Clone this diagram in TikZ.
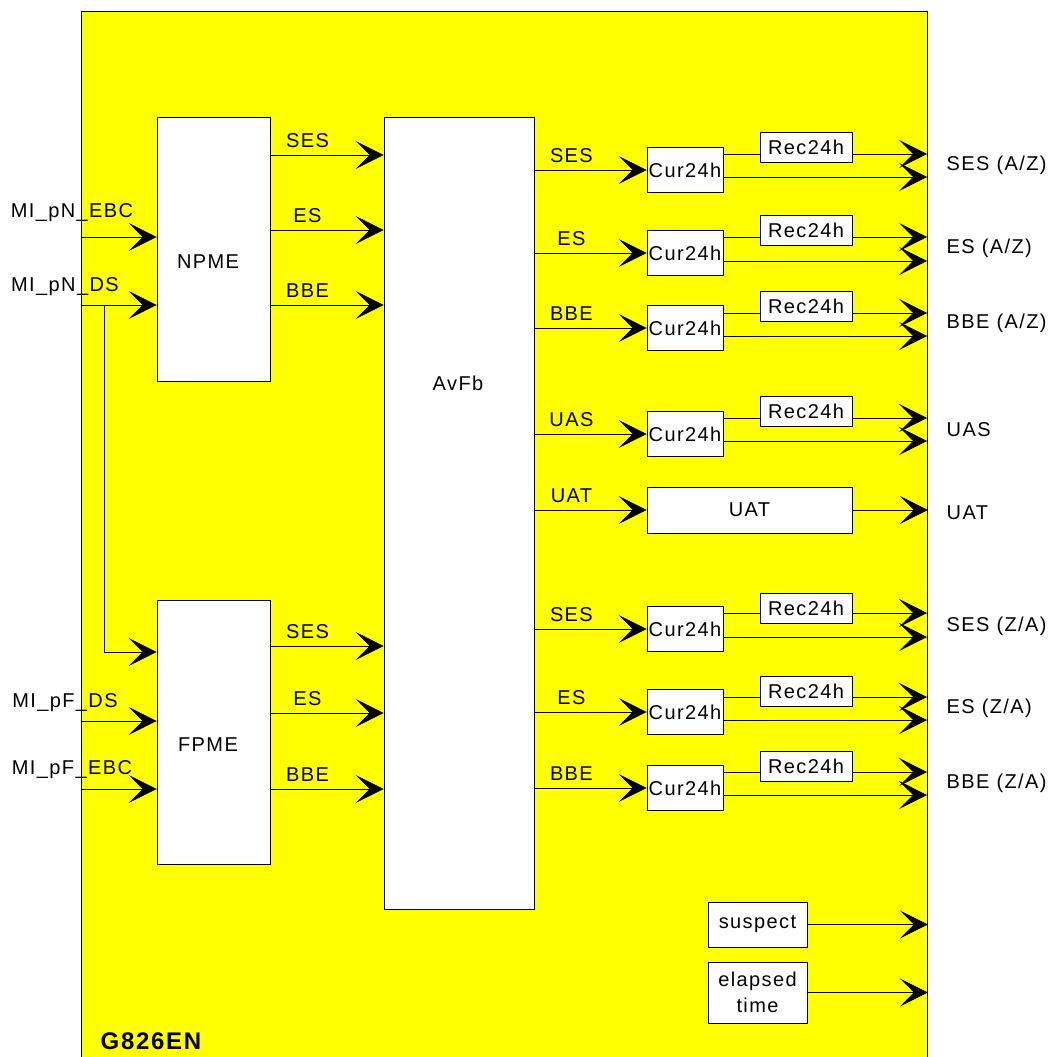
\documentclass[tikz,border=0pt]{standalone}
\usepackage{fontspec}
\setmainfont{Liberation Sans}[LetterSpace=7]
\usetikzlibrary{arrows.meta}

\definecolor{blockyellow}{RGB}{255,255,0}

\tikzset{
  arr/.style = {-{Stealth[length=28pt, width=28pt, inset=14pt]}},
  blk/.style = {draw, fill=white, inner sep=0pt},
  cur/.style = {blk, minimum width=76pt, minimum height=45pt},
  rec/.style = {blk, minimum width=92pt, minimum height=30pt},
  sig/.style = {above=4pt, pos=.33},
  inlbl/.style = {anchor=base},
  outlbl/.style = {anchor=base west},
}

\begin{document}
\begin{tikzpicture}[x=1pt, y=-1pt, line width=0.8pt, font=\fontsize{20pt}{26pt}\selectfont]
        \useasboundingbox (0,0) rectangle (1047,1057);

        % outer block
        \node[draw, fill=blockyellow, inner sep=0pt, anchor=north west,
              minimum width=846pt, minimum height=1060pt] (frame) at (81,11) {};
        \node[anchor=base west, font=\fontsize{24pt}{28pt}\selectfont\bfseries] (title) at (97,1049) {G826EN};

        % inner blocks
        \node[blk, minimum width=113pt, minimum height=264pt] (npme) at (213.5,249) {};
        \node (npmetxt) at (208,262) {NPME};
        \node[blk, minimum width=113pt, minimum height=264pt] (fpme) at (213.5,732) {};
        \node (fpmetxt) at (208,745) {FPME};
        \node[blk, minimum width=150pt, minimum height=792pt] (avfb) at (459,513) {};
        \node (avfbtxt) at (458,383) {AvFb};

        % inputs
        \coordinate (i1) at (82,237);
        \coordinate (i2) at (82,305);
        \coordinate (i3) at (82,721);
        \coordinate (i4) at (82,789);
        \coordinate (br) at (104,305);
        \coordinate (bf) at (104,652);
        \draw[arr] (i1) node[inlbl, xshift=-10pt, yshift=20pt] (li1) {MI\_pN\_EBC} -- (i1 -| npme.west);
        \draw[arr] (i2) node[inlbl, xshift=-17pt, yshift=14pt] (li2) {MI\_pN\_DS} -- (i2 -| npme.west);
        \draw[arr] (br) -- (bf) -- (bf -| fpme.west);
        \draw[arr] (i3) node[inlbl, xshift=-17pt, yshift=14pt] (li3) {MI\_pF\_DS} -- (i3 -| fpme.west);
        \draw[arr] (i4) node[inlbl, xshift=-10pt, yshift=15pt] (li4) {MI\_pF\_EBC} -- (i4 -| fpme.west);

        % near end and far end counts
        \coordinate (n1) at (270,155);
        \coordinate (n2) at (270,230);
        \coordinate (n3) at (270,305);
        \coordinate (f1) at (270,646);
        \coordinate (f2) at (270,713);
        \coordinate (f3) at (270,789);
        \draw[arr] (n1) -- node[sig] (ln1) {SES} (n1 -| avfb.west);
        \draw[arr] (n2) -- node[sig] (ln2) {ES} (n2 -| avfb.west);
        \draw[arr] (n3) -- node[sig] (ln3) {BBE} (n3 -| avfb.west);
        \draw[arr] (f1) -- node[sig] (lf1) {SES} (f1 -| avfb.west);
        \draw[arr] (f2) -- node[sig] (lf2) {ES} (f2 -| avfb.west);
        \draw[arr] (f3) -- node[sig] (lf3) {BBE} (f3 -| avfb.west);

        % SES (A/Z)
        \node[cur] (c1) at (685,170) {Cur24h};
        \node[rec] (r1) at (806,147) {Rec24h};
        \coordinate (t1) at (927,154);
        \coordinate (b1) at (927,177);
        \draw[arr] (c1.west -| avfb.east) -- node[sig] (ls1) {SES} (c1.west);
        \draw (t1 -| c1.east) -- (t1 -| r1.west);
        \draw[arr] (t1 -| r1.east) -- (t1);
        \draw[arr] (b1 -| c1.east) -- (b1);
        \node[outlbl] (o1) at (943,170) {SES (A/Z)};

        % ES (A/Z)
        \node[cur] (c2) at (685,253) {Cur24h};
        \node[rec] (r2) at (806,230) {Rec24h};
        \coordinate (t2) at (927,237);
        \coordinate (b2) at (927,261);
        \draw[arr] (c2.west -| avfb.east) -- node[sig] (ls2) {ES} (c2.west);
        \draw (t2 -| c2.east) -- (t2 -| r2.west);
        \draw[arr] (t2 -| r2.east) -- (t2);
        \draw[arr] (b2 -| c2.east) -- (b2);
        \node[outlbl] (o2) at (943,253) {ES (A/Z)};

        % BBE (A/Z)
        \node[cur] (c3) at (685,328) {Cur24h};
        \node[rec] (r3) at (806,306) {Rec24h};
        \coordinate (t3) at (927,313);
        \coordinate (b3) at (927,336);
        \draw[arr] (c3.west -| avfb.east) -- node[sig] (ls3) {BBE} (c3.west);
        \draw (t3 -| c3.east) -- (t3 -| r3.west);
        \draw[arr] (t3 -| r3.east) -- (t3);
        \draw[arr] (b3 -| c3.east) -- (b3);
        \node[outlbl] (o3) at (943,328) {BBE (A/Z)};

        % UAS
        \node[cur] (c4) at (685,434) {Cur24h};
        \node[rec] (r4) at (806,411) {Rec24h};
        \coordinate (t4) at (927,418);
        \coordinate (b4) at (927,441);
        \draw[arr] (c4.west -| avfb.east) -- node[sig] (ls4) {UAS} (c4.west);
        \draw (t4 -| c4.east) -- (t4 -| r4.west);
        \draw[arr] (t4 -| r4.east) -- (t4);
        \draw[arr] (b4 -| c4.east) -- (b4);
        \node[outlbl] (o4) at (943,436) {UAS};

        % UAT
        \node[blk, minimum width=205pt, minimum height=46pt] (uat) at (749.5,510) {UAT};
        \draw[arr] (uat.west -| avfb.east) -- node[sig] (ls5) {UAT} (uat.west);
        \draw[arr] (uat.east) -- (uat.east -| frame.east);
        \node[outlbl] (o5) at (943,519) {UAT};

        % SES (Z/A)
        \node[cur] (c6) at (685,629) {Cur24h};
        \node[rec] (r6) at (806,608) {Rec24h};
        \coordinate (t6) at (927,613);
        \coordinate (b6) at (927,637);
        \draw[arr] (c6.west -| avfb.east) -- node[sig] (ls6) {SES} (c6.west);
        \draw (t6 -| c6.east) -- (t6 -| r6.west);
        \draw[arr] (t6 -| r6.east) -- (t6);
        \draw[arr] (b6 -| c6.east) -- (b6);
        \node[outlbl] (o6) at (943,631) {SES (Z/A)};

        % ES (Z/A)
        \node[cur] (c7) at (685,712) {Cur24h};
        \node[rec] (r7) at (806,691) {Rec24h};
        \coordinate (t7) at (927,697);
        \coordinate (b7) at (927,720);
        \draw[arr] (c7.west -| avfb.east) -- node[sig] (ls7) {ES} (c7.west);
        \draw (t7 -| c7.east) -- (t7 -| r7.west);
        \draw[arr] (t7 -| r7.east) -- (t7);
        \draw[arr] (b7 -| c7.east) -- (b7);
        \node[outlbl] (o7) at (943,713) {ES (Z/A)};

        % BBE (Z/A)
        \node[cur] (c8) at (685,788) {Cur24h};
        \node[rec] (r8) at (806,766) {Rec24h};
        \coordinate (t8) at (927,772);
        \coordinate (b8) at (927,795);
        \draw[arr] (c8.west -| avfb.east) -- node[sig] (ls8) {BBE} (c8.west);
        \draw (t8 -| c8.east) -- (t8 -| r8.west);
        \draw[arr] (t8 -| r8.east) -- (t8);
        \draw[arr] (b8 -| c8.east) -- (b8);
        \node[outlbl] (o8) at (943,788) {BBE (Z/A)};

        % status outputs
        \node[blk, minimum width=99pt, minimum height=45pt] (susp) at (757.5,924.5) {suspect};
        \node[blk, minimum width=99pt, minimum height=61pt, align=center] (elap) at (757.5,992.5) {elapsed\\time};
        \draw[arr] (susp.east) -- (susp.east -| frame.east);
        \draw[arr] (elap.east) -- (elap.east -| frame.east);
    \end{tikzpicture}
\end{document}
